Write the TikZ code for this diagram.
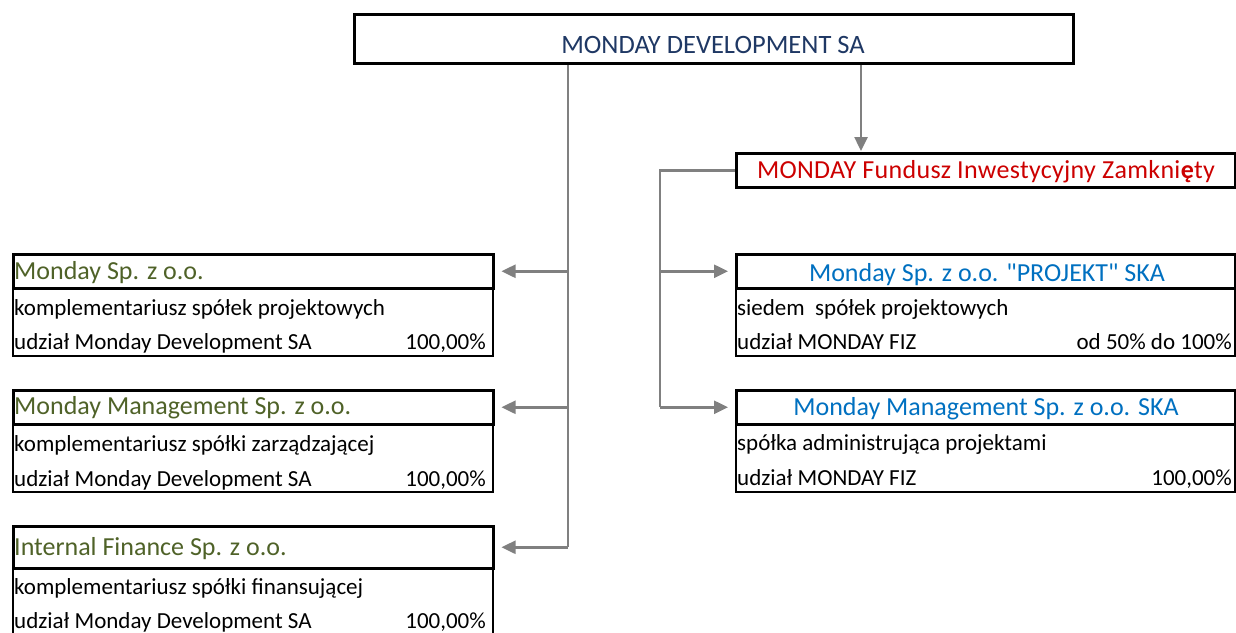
\documentclass[tikz,border=0pt]{standalone}
\usepackage{fontspec}
\setmainfont{Carlito}[Ligatures=TeXOff]
\usetikzlibrary{arrows.meta}
\definecolor{navy}{HTML}{1F3864}
\definecolor{fizred}{HTML}{CC0000}
\definecolor{skablue}{HTML}{0070C0}
\definecolor{olivegreen}{HTML}{4F6228}
\definecolor{conngray}{HTML}{808080}
\begin{document}
\begin{tikzpicture}[x=1pt,y=-1pt,
  hbox/.style={draw=black,line width=2.5pt,inner sep=0pt,anchor=north west,minimum height=34pt},
  lbox/.style={hbox,minimum width=480pt},
  rbox/.style={hbox,minimum width=499pt},
  bbox/.style={draw=black,line width=2pt,inner sep=0pt,anchor=north west},
  htext/.style={inner sep=0pt,font=\fontsize{26}{30}\selectfont},
  btext/.style={inner sep=0pt,font=\fontsize{23}{27}\selectfont,text=black},
  cline/.style={draw=conngray,line width=2.5pt},
  carrow/.style={cline,-{Triangle[length=14pt,width=13pt]},fill=conngray},
]
\useasboundingbox (0,0) rectangle (1236,632);

% top box
\node[hbox,minimum width=719pt,minimum height=49pt,line width=3pt] (top) at (353,13) {};
\node[htext,text=navy,anchor=base,font=\fontsize{26.5}{30}\selectfont] (toptxt) at (713,53) {MONDAY DEVELOPMENT SA};

% FIZ
\node[rbox] (fiz) at (735,152) {};
\node[htext,text=fizred,anchor=base,font=\fontsize{26}{30}\selectfont\addfontfeature{LetterSpace=1.2}] (fiztxt) at (986,178) {MONDAY Fundusz Inwestycyjny Zamkni\textbf{ę}ty};

% left boxes
\node[lbox] (l1h) at (12,253) {};
\node[bbox,minimum width=480pt,minimum height=68pt] (l1b) at (12,287) {};
\node[htext,text=olivegreen,anchor=base west] (l1t) at (14,279) {Monday Sp. z o.o.};
\node[btext,anchor=base west] (l1a) at (14,315) {komplementariusz spółek projektowych};
\node[btext,anchor=base west] (l1c) at (14,349) {udział Monday Development SA};
\node[btext,anchor=base east] (l1p) at (486,349) {100,00\%};

\node[lbox] (l2h) at (12,389) {};
\node[bbox,minimum width=480pt,minimum height=68pt] (l2b) at (12,423) {};
\node[htext,text=olivegreen,anchor=base west] (l2t) at (14,414) {Monday Management Sp. z o.o.};
\node[btext,anchor=base west] (l2a) at (14,451) {komplementariusz spółki zarządzającej};
\node[btext,anchor=base west] (l2c) at (14,486) {udział Monday Development SA};
\node[btext,anchor=base east] (l2p) at (486,486) {100,00\%};

\node[lbox,minimum height=42pt] (l3h) at (12,525) {};
\node[bbox,minimum width=480pt,minimum height=80pt] (l3b) at (12,567) {};
\node[htext,text=olivegreen,anchor=base west] (l3t) at (14,555) {Internal Finance Sp. z o.o.};
\node[btext,anchor=base west] (l3a) at (14,594) {komplementariusz spółki finansującej};
\node[btext,anchor=base west] (l3c) at (14,628) {udział Monday Development SA};
\node[btext,anchor=base east] (l3p) at (486,628) {100,00\%};

% right boxes
\node[rbox] (r1h) at (735,253) {};
\node[bbox,minimum width=499pt,minimum height=68pt] (r1b) at (735,287) {};
\node[htext,text=skablue,anchor=base] (r1t) at (987,281) {Monday Sp. z o.o. "PROJEKT" SKA};
\node[btext,anchor=base west] (r1a) at (737,315) {siedem~ spółek projektowych};
\node[btext,anchor=base west] (r1c) at (737,349) {udział MONDAY FIZ};
\node[btext,anchor=base east] (r1p) at (1232,349) {od 50\% do 100\%};

\node[rbox] (r2h) at (735,389) {};
\node[bbox,minimum width=499pt,minimum height=68pt] (r2b) at (735,423) {};
\node[htext,text=skablue,anchor=base] (r2t) at (986,415) {Monday Management Sp. z o.o. SKA};
\node[btext,anchor=base west] (r2a) at (737,450) {spółka administrująca projektami};
\node[btext,anchor=base west] (r2c) at (737,485) {udział MONDAY FIZ};
\node[btext,anchor=base east] (r2p) at (1232,485) {100,00\%};

% connectors
\coordinate (sx) at (568,0);
\coordinate (dx) at (861,0);
\coordinate (rx) at (660,0);
\draw[cline] (top.south -| sx) -- (l3h.east -| sx);
\draw[carrow,shorten >=7pt] (l1h.east -| sx) -- (l1h.east);
\draw[carrow,shorten >=7pt] (l2h.east -| sx) -- (l2h.east);
\draw[carrow,shorten >=7pt] (l3h.east -| sx) -- (l3h.east);
\draw[carrow,shorten >=1pt] (top.south -| dx) -- (fiz.north -| dx);
\draw[cline] (fiz.west) -- (fiz.west -| rx) -- (r2h.west -| rx);
\draw[carrow,shorten >=7pt] (r1h.west -| rx) -- (r1h.west);
\draw[carrow,shorten >=7pt] (r2h.west -| rx) -- (r2h.west);
\end{tikzpicture}
\end{document}
